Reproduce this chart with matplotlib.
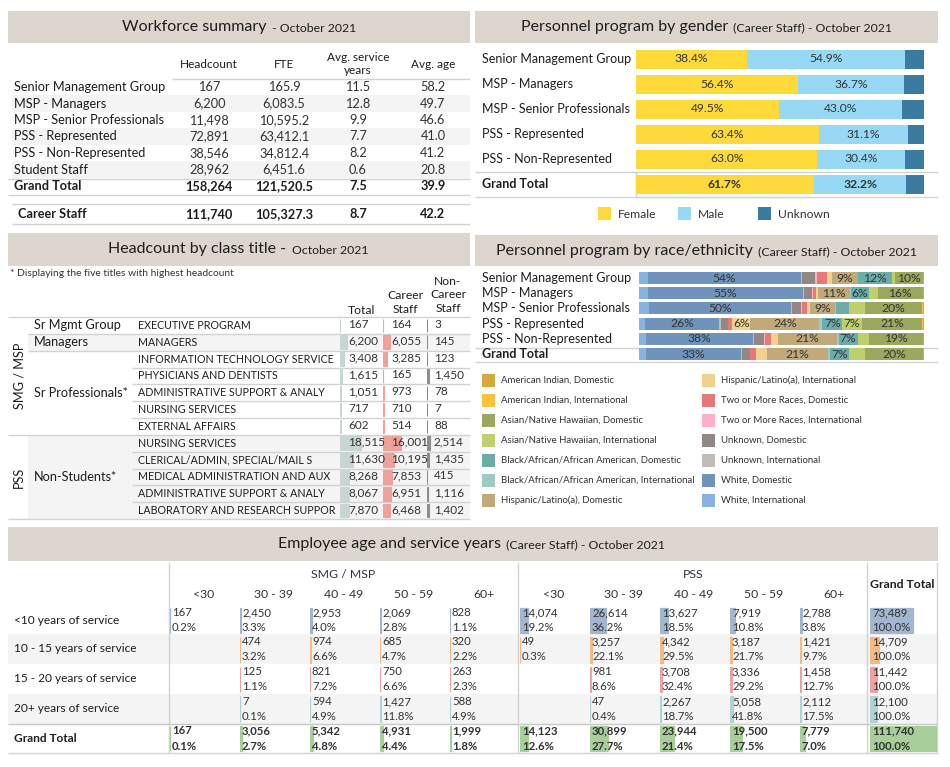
import numpy as np
import matplotlib
matplotlib.use('Agg')
import matplotlib.pyplot as plt
from matplotlib.patches import Rectangle

plt.rcParams['font.family'] = ['Lato', 'DejaVu Sans']

W, H = 950, 767

# ---------------- data ----------------
# workforce summary
wf_groups = ['Senior Management Group', 'MSP - Managers', 'MSP - Senior Professionals',
             'PSS - Represented', 'PSS - Non-Represented', 'Student Staff']
wf_headcount = [167, 6200, 11498, 72891, 38546, 28962]
wf_fte = [165.9, 6083.5, 10595.2, 63412.1, 34812.4, 6451.6]
wf_service = [11.5, 12.8, 9.9, 7.7, 8.2, 0.6]
wf_age = [58.2, 49.7, 46.6, 41.0, 41.2, 20.8]
wf_grand_total = [158264, 121520.5, 7.5, 39.9]
wf_career = [111740, 105327.3, 8.7, 42.2]

# gender (career staff)
gender_groups = ['Senior Management Group', 'MSP - Managers', 'MSP - Senior Professionals',
                 'PSS - Represented', 'PSS - Non-Represented', 'Grand Total']
female_pct = [38.4, 56.4, 49.5, 63.4, 63.0, 61.7]
male_pct = [54.9, 36.7, 43.0, 31.1, 30.4, 32.2]

# headcount by class title
hc_titles = ['EXECUTIVE PROGRAM', 'MANAGERS', 'INFORMATION TECHNOLOGY SERVICE',
             'PHYSICIANS AND DENTISTS', 'ADMINISTRATIVE SUPPORT & ANALY', 'NURSING SERVICES',
             'EXTERNAL AFFAIRS', 'NURSING SERVICES', 'CLERICAL/ADMIN, SPECIAL/MAIL S',
             'MEDICAL ADMINISTRATION AND AUX', 'ADMINISTRATIVE SUPPORT & ANALY',
             'LABORATORY AND RESEARCH SUPPOR']
hc_career = [164, 6055, 3285, 165, 973, 710, 514, 16001, 10195, 7853, 6951, 6468]
hc_noncareer = [3, 145, 123, 1450, 78, 7, 88, 2514, 1435, 415, 1116, 1402]

# race / ethnicity (career staff), % per program
race_groups = gender_groups
white_intl = [3.0, 3.0, 3.5, 2.0, 2.5, 2.5]
white_dom = [53.8, 54.6, 49.8, 26.2, 37.6, 33.2]
unknown_intl = [0.3, 0.3, 0.5, 0.4, 0.3, 0.6]
unknown_dom = [4.6, 2.8, 3.0, 2.5, 3.6, 2.5]
two_intl = [0.8, 0.3, 0.3, 0.2, 0.2, 0.2]
two_dom = [3.5, 1.2, 1.8, 1.5, 2.0, 2.0]
hisp_intl = [1.8, 0.7, 1.0, 6.2, 2.5, 4.0]
hisp_dom = [9.0, 11.2, 9.0, 24.3, 20.8, 21.3]
black_intl = [0.2, 0.3, 0.3, 1.0, 0.5, 0.7]
black_dom = [11.8, 6.4, 4.5, 7.0, 6.7, 6.7]
asian_intl = [1.0, 3.0, 5.5, 6.8, 4.0, 5.6]
asian_dom = [10.0, 15.7, 20.2, 21.3, 19.0, 20.4]
amind_intl = [0.0, 0.0, 0.1, 0.1, 0.0, 0.0]
amind_dom = [0.2, 0.5, 0.5, 0.5, 0.3, 0.3]

# age x service years (career staff); None = empty cell
age_bands = ['<30', '30 - 39', '40 - 49', '50 - 59', '60+']
service_bands = ['<10 years of service', '10 - 15 years of service',
                 '15 - 20 years of service', '20+ years of service']
smg_counts = [[167, 2450, 2953, 2069, 828],
              [None, 474, 974, 685, 320],
              [None, 125, 821, 750, 263],
              [None, 7, 594, 1427, 588]]
pss_counts = [[14074, 26614, 13627, 7919, 2788],
              [49, 3257, 4342, 3187, 1421],
              [None, 981, 3708, 3336, 1458],
              [None, 47, 2267, 5058, 2112]]

# ---------------- styles ----------------
HEAD_BG = '#DCD6CF'
BAND = '#F4F4F4'
LINE = '#D2D2D2'
TXT = '#333333'
DARK = '#1E1E1E'

fig = plt.figure(figsize=(9.5, 7.67), dpi=100)
bg = fig.add_axes([0, 0, 1, 1])
bg.set_xlim(0, W)
bg.set_ylim(H, 0)
bg.axis('off')
fg = fig.add_axes([0, 0, 1, 1])
fg.set_xlim(0, W)
fg.set_ylim(H, 0)
fg.axis('off')
fg.set_zorder(10)


def px_axes(x0, y0, x1, y1):
    ax = fig.add_axes([x0 / W, 1 - y1 / H, (x1 - x0) / W, (y1 - y0) / H])
    ax.axis('off')
    return ax


def hline(y, x0, x1, color=LINE, lw=1.0):
    bg.plot([x0, x1], [y, y], color=color, lw=lw, solid_capstyle='butt')


def band(x0, x1, y0, y1, color=BAND):
    bg.add_patch(Rectangle((x0, y0), x1 - x0, y1 - y0, facecolor=color, edgecolor='none'))


def header(x0, x1, y0, y1, main, sub, split):
    band(x0, x1, y0, y1, HEAD_BG)
    yc = (y0 + y1) / 2
    fg.text(split, yc, main, ha='right', va='center', fontsize=11.5, color=DARK)
    fg.text(split + 2, yc + 1, sub, ha='left', va='center', fontsize=8.8, color=DARK)


# ================= Workforce summary =================
header(8, 470, 11, 43, 'Workforce summary', ' - October 2021', 267)
col_x = [209, 284, 358, 433]
fg.text(col_x[0], 64, 'Headcount', ha='center', va='center', fontsize=8.5, color=DARK)
fg.text(col_x[1], 64, 'FTE', ha='center', va='center', fontsize=8.5, color=DARK)
fg.text(col_x[2], 64, 'Avg. service\nyears', ha='center', va='center', fontsize=8.5,
        color=DARK, linespacing=1.15)
fg.text(col_x[3], 64, 'Avg. age', ha='center', va='center', fontsize=8.5, color=DARK)
hline(79, 172, 470)
row_h = 16.5
for i, g in enumerate(wf_groups):
    yc = 87 + i * row_h
    if i % 2 == 1:
        band(12, 470, yc - row_h / 2, yc + row_h / 2)
    fg.text(14, yc, g, ha='left', va='center', fontsize=9.2, color=DARK)
    vals = [f'{wf_headcount[i]:,}', f'{wf_fte[i]:,.1f}', f'{wf_service[i]:.1f}', f'{wf_age[i]:.1f}']
    for x, v in zip(col_x, vals):
        fg.text(x, yc, v, ha='center', va='center', fontsize=9.2, color=TXT)
yc = 87 + 6 * row_h
fg.text(14, yc, 'Grand Total', ha='left', va='center', fontsize=9.2, color=DARK, fontweight='bold')
fmts = ['{:,.0f}', '{:,.1f}', '{:.1f}', '{:.1f}']
for x, v, f in zip(col_x, wf_grand_total, fmts):
    fg.text(x, yc, f.format(v), ha='center', va='center', fontsize=9.2, color=DARK, fontweight='bold')
hline(178.5, 8, 470)
hline(195, 8, 470)
hline(204, 12, 470)
hline(224, 12, 470)
fg.text(18, 214, 'Career Staff', ha='left', va='center', fontsize=9.2, color=DARK, fontweight='bold')
for x, v, f in zip(col_x, wf_career, fmts):
    fg.text(x, 214, f.format(v), ha='center', va='center', fontsize=9.2, color=DARK, fontweight='bold')

# ================= Gender =================
header(475, 938, 11, 43, 'Personnel program by gender', ' (Career Staff) - October 2021', 728)
FEMALE, MALE, UNKNOWN = '#FDDA3A', '#97D8F4', '#3C7BA1'
female = np.array(female_pct)
male = np.array(male_pct)
unknown = 100 - female - male
ax_g = px_axes(636, 46.5, 924, 196.5)
ax_g.set_xlim(0, 100)
ax_g.set_ylim(5.5, -0.5)
yy = np.arange(len(gender_groups))
ax_g.barh(yy, female, height=0.76, color=FEMALE)
ax_g.barh(yy, male, left=female, height=0.76, color=MALE)
ax_g.barh(yy, unknown, left=female + male, height=0.76, color=UNKNOWN)
for i in yy:
    w = 'bold' if i == len(yy) - 1 else 'normal'
    ax_g.text(female[i] / 2, i, f'{female[i]:.1f}%', ha='center', va='center', fontsize=8.7,
              color=TXT, fontweight=w)
    ax_g.text(female[i] + male[i] / 2, i, f'{male[i]:.1f}%', ha='center', va='center',
              fontsize=8.7, color=TXT, fontweight=w)
    fg.text(482, 59 + 25 * i, gender_groups[i], ha='left', va='center', fontsize=9, color=DARK,
            fontweight=w)
hline(171.5, 475, 938)
hline(196.5, 475, 938)
bg.plot([636, 636], [171.5, 196.5], color=LINE, lw=1)
for x, c, lab in [(598, FEMALE, 'Female'), (678, MALE, 'Male'), (758, UNKNOWN, 'Unknown')]:
    bg.add_patch(Rectangle((x, 207), 13, 13, facecolor=c, edgecolor='none'))
    fg.text(x + 20, 214, lab, ha='left', va='center', fontsize=8.7, color=TXT)

# ================= Headcount by class title =================
header(8, 470, 233, 266, 'Headcount by class title - ', 'October 2021', 290)
fg.text(10, 273, '* Displaying the five titles with highest headcount', ha='left', va='center',
        fontsize=7.4, color=TXT)
fg.text(362, 310, 'Total', ha='center', va='center', fontsize=8.7, color=DARK)
fg.text(405, 302.5, 'Career\nStaff', ha='center', va='center', fontsize=8.7, color=DARK,
        linespacing=1.3)
fg.text(448, 295, 'Non-\nCareer\nStaff', ha='center', va='center', fontsize=8.7, color=DARK,
        linespacing=1.3)

hc_top, hc_bot = 317, 519
hc_rh = (hc_bot - hc_top) / len(hc_titles)
band(28, 470, hc_top + hc_rh, hc_top + 2 * hc_rh)
band(28, 470, hc_top + 7 * hc_rh, hc_bot)
hline(hc_top, 8, 470)
hline(hc_top + hc_rh, 28, 470)
hline(hc_top + 2 * hc_rh, 28, 470)
for k in [3, 4, 5, 6, 8, 9, 10, 11]:
    hline(hc_top + k * hc_rh, 132, 470)
hline(hc_top + 7 * hc_rh, 8, 470)
hline(hc_bot, 8, 470)

fg.text(19, hc_top + 3.5 * hc_rh, 'SMG / MSP', rotation=90, ha='center', va='center', fontsize=9.2,
        color=DARK)
fg.text(19, hc_top + 9.5 * hc_rh, 'PSS', rotation=90, ha='center', va='center', fontsize=9.2,
        color=DARK)
fg.text(34, hc_top + 0.5 * hc_rh, 'Sr Mgmt Group', ha='left', va='center', fontsize=9.2, color=DARK)
fg.text(34, hc_top + 1.5 * hc_rh, 'Managers', ha='left', va='center', fontsize=9.2, color=DARK)
fg.text(34, hc_top + 4.5 * hc_rh, 'Sr Professionals*', ha='left', va='center', fontsize=9.2,
        color=DARK)
fg.text(34, hc_top + 9.5 * hc_rh, 'Non-Students*', ha='left', va='center', fontsize=9.2, color=DARK)

hc_career = np.array(hc_career)
hc_noncareer = np.array(hc_noncareer)
hc_total = hc_career + hc_noncareer
hc_rows = np.arange(len(hc_titles)) + 0.5
hc_xmax = 36000
for x0, vals, col, tx in [(340, hc_total, '#C6D6D4', 348), (383, hc_career, '#F0A19B', 391),
                          (427, hc_noncareer, '#8E8E8E', 434)]:
    ax = px_axes(x0, hc_top, x0 + 40, hc_bot)
    ax.set_xlim(0, hc_xmax)
    ax.set_ylim(len(hc_titles), 0)
    ax.barh(hc_rows, vals, height=0.82, color=col, edgecolor=col, linewidth=0.8)
    for i, v in enumerate(vals):
        fg.text(tx, hc_top + hc_rows[i] * hc_rh - 1, f'{v:,}', ha='left', va='center',
                fontsize=8.5, color=TXT)
for i, t in enumerate(hc_titles):
    fg.text(138, hc_top + hc_rows[i] * hc_rh, t, ha='left', va='center', fontsize=7.7, color=DARK)

# ================= Race / ethnicity =================
header(475, 938, 235, 266, 'Personnel program by race/ethnicity', ' (Career Staff) - October 2021',
       753)
race_names = ['American Indian, Domestic', 'American Indian, International',
              'Asian/Native Hawaiian, Domestic', 'Asian/Native Hawaiian, International',
              'Black/African/African American, Domestic',
              'Black/African/African American, International',
              'Hispanic/Latino(a), Domestic', 'Hispanic/Latino(a), International',
              'Two or More Races, Domestic', 'Two or More Races, International',
              'Unknown, Domestic', 'Unknown, International', 'White, Domestic',
              'White, International']
race_colors = ['#D9A83B', '#FCC23C', '#9CA85E', '#BECF6B', '#6BADA9', '#9ECAC5', '#C2A97A',
               '#F0D190', '#E87777', '#FDAFC6', '#918886', '#C1BCB8', '#6F93BA', '#87B2E2']
race_series = [amind_dom, amind_intl, asian_dom, asian_intl, black_dom, black_intl, hisp_dom,
               hisp_intl, two_dom, two_intl, unknown_dom, unknown_intl, white_dom, white_intl]

ax_r = px_axes(639, 270.4, 924, 361.6)
ax_r.set_xlim(0, 100)
ax_r.set_ylim(5.5, -0.5)
yr = np.arange(len(race_groups))
left = np.zeros(len(race_groups))
for k in range(len(race_series) - 1, -1, -1):
    vals = np.array(race_series[k])
    ax_r.barh(yr, vals, left=left, height=0.8, color=race_colors[k])
    for i in yr:
        if vals[i] >= 5.8:
            ax_r.text(left[i] + vals[i] / 2, i, f'{round(vals[i])}%', ha='center', va='center',
                      fontsize=8.7, color=TXT)
    left = left + vals
for i, g in enumerate(race_groups):
    w = 'bold' if i == len(race_groups) - 1 else 'normal'
    fg.text(482, 278 + 15.2 * i, g, ha='left', va='center', fontsize=9, color=DARK, fontweight=w)
hline(347.5, 475, 938)
hline(362, 475, 938)

for k, (name, col) in enumerate(zip(race_names, race_colors)):
    cx = 482 if k < 7 else 702
    cy = 380 + 20 * (k % 7)
    bg.add_patch(Rectangle((cx, cy - 6.5), 13, 13, facecolor=col, edgecolor='none'))
    fg.text(cx + 19, cy, name, ha='left', va='center', fontsize=6.9, color=TXT)

# ================= Age and service years =================
header(8, 938, 527, 561, 'Employee age and service years', ' (Career Staff) - October 2021', 501)
row_bounds = [606, 634, 664, 694, 724, 753]
band(8, 937, row_bounds[1], row_bounds[2])
band(8, 937, row_bounds[3], row_bounds[4])
for x in [169, 518, 867, 937]:
    bg.plot([x, x], [563, 753], color=LINE, lw=1)
hline(724, 8, 937, color='#C8C8C8')
hline(753, 8, 937)

fg.text(343, 574, 'SMG / MSP', ha='center', va='center', fontsize=8.8, color=TXT)
fg.text(693, 574, 'PSS', ha='center', va='center', fontsize=8.8, color=TXT)
fg.text(902, 584, 'Grand Total', ha='center', va='center', fontsize=8.8, color=DARK,
        fontweight='bold')

row_labels = service_bands + ['Grand Total']
for r, lab in enumerate(row_labels):
    yc = (row_bounds[r] + row_bounds[r + 1]) / 2
    w = 'bold' if r == 4 else 'normal'
    fg.text(14, yc, lab, ha='left', va='center', fontsize=8.6, color=DARK, fontweight=w)

# build columns: 5 SMG + 5 PSS + grand total
columns = []
for block in [smg_counts, pss_counts]:
    for j in range(len(age_bands)):
        columns.append([block[r][j] for r in range(len(service_bands))])
row_totals = [sum(c[r] or 0 for c in columns) for r in range(len(service_bands))]
grand = sum(row_totals)
columns.append(row_totals)

age_colors = ['#A2B6CF', '#F4BA84', '#EEA3A3', '#AFD3D0', '#A8CF9A']
age_xmax = grand * 70 / 66
for c, col in enumerate(columns):
    x0 = 169 + 70 * c
    if c < 10:
        fg.text(x0 + 35, 594, age_bands[c % 5], ha='center', va='center', fontsize=8.8, color=TXT)
    col_total = sum(v or 0 for v in col)
    vals = list(col) + [col_total]
    ax = px_axes(x0 + 1, row_bounds[0], x0 + 71, row_bounds[-1])
    ax.set_xlim(0, age_xmax)
    ax.set_ylim(5, 0)
    for r, v in enumerate(vals):
        if v is None:
            continue
        ax.barh(r + 0.5, v, height=0.86, color=age_colors[r], edgecolor=age_colors[r],
                linewidth=0.9)
        denom = grand if r == 4 else row_totals[r]
        yc = (row_bounds[r] + row_bounds[r + 1]) / 2
        w = 'bold' if r == 4 else 'normal'
        fg.text(x0 + 3, yc - 7.5, f'{v:,}', ha='left', va='center', fontsize=8.2, color=TXT,
                fontweight=w)
        fg.text(x0 + 3, yc + 7.5, f'{v / denom * 100:.1f}%', ha='left', va='center',
                fontsize=8.2, color=TXT, fontweight=w)

fig.savefig('out.png', dpi=100, facecolor='white')
